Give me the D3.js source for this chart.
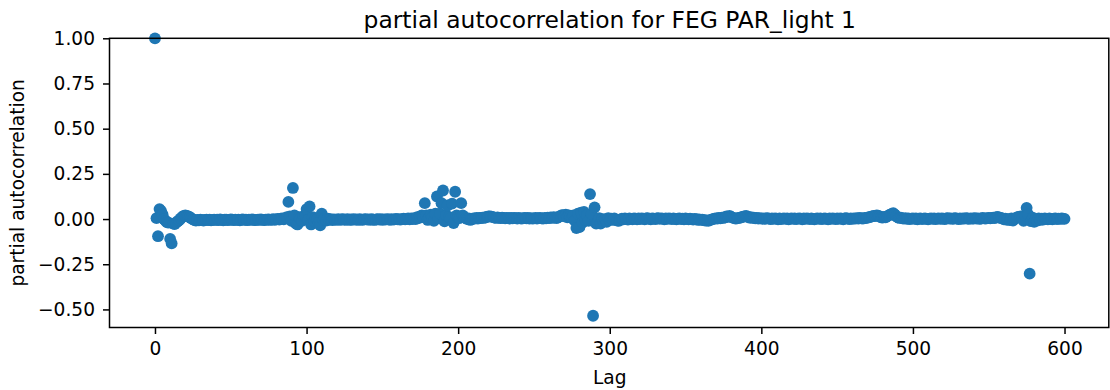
<!DOCTYPE html>
<html>
<head>
<meta charset="utf-8">
<script src="https://cdn.jsdelivr.net/npm/d3@7"></script>
<style>
  html, body { margin: 0; padding: 0; background: #fff; }
  svg { display: block; font-family: "DejaVu Sans", sans-serif; }
</style>
</head>
<body>
<svg id="chart" width="1110" height="390"></svg>
<script>
// Partial autocorrelation of the PAR_light 1 series, lags 0..600 (one value per lag).
const pacf = [
  1.0, 0.005, -0.095, 0.055, 0.045, 0.025, 0.0, -0.01, -0.018, -0.02, -0.11, -0.135, -0.025, -0.028, -0.02, -0.012, -0.006, 0.004, 0.012, 0.018,
  0.02, 0.018, 0.014, 0.01, 0.004, -0.002, -0.006, -0.008, -0.005, -0.007, -0.004, -0.006, -0.008, -0.005, -0.003, -0.006, -0.004, -0.007, -0.005, -0.003,
  -0.005, -0.004, -0.006, -0.002, -0.005, -0.007, -0.004, -0.003, -0.006, -0.005, -0.002, -0.004, -0.006, -0.003, -0.005, -0.004, -0.007, -0.003, -0.002, -0.005,
  -0.004, -0.006, -0.003, -0.005, -0.002, -0.004, -0.006, -0.005, -0.003, -0.004, -0.002, -0.005, -0.006, -0.003, -0.004, -0.002, -0.005, -0.003, -0.001, -0.004,
  -0.002, 0.001, -0.003, 0.002, 0.004, -0.002, 0.005, 0.01, 0.095, 0.015, -0.01, 0.172, 0.02, -0.025, -0.03, 0.01, 0.005, -0.01, 0.015, 0.02,
  0.055, -0.005, 0.07, -0.03, 0.01, -0.01, 0.005, 0.0, -0.02, -0.035, 0.03, -0.005, 0.005, -0.008, 0.002, -0.004, 0.0, -0.006, -0.002, -0.004,
  -0.003, -0.001, -0.005, -0.002, 0.0, -0.004, -0.003, -0.001, -0.005, -0.002, -0.004, 0.0, -0.003, -0.002, -0.005, -0.001, -0.003, -0.004, -0.002, 0.0,
  -0.003, -0.002, -0.004, -0.001, -0.003, -0.005, -0.002, 0.0, -0.003, -0.001, -0.004, -0.002, -0.003, 0.0, -0.002, -0.004, -0.001, -0.003, -0.002, 0.001,
  -0.002, -0.001, -0.003, 0.0, 0.002, -0.002, 0.001, 0.003, -0.001, 0.004, 0.0, 0.005, 0.0, 0.01, 0.005, 0.015, 0.02, 0.01, 0.088, 0.02,
  -0.005, 0.01, 0.025, 0.01, -0.01, 0.03, 0.125, 0.005, 0.03, 0.088, 0.158, -0.013, 0.02, 0.075, 0.01, 0.005, 0.085, -0.022, 0.151, 0.02,
  0.01, 0.005, 0.088, 0.02, 0.01, 0.005, 0.0, 0.003, -0.005, 0.0, 0.004, 0.002, 0.006, 0.003, 0.007, 0.005, 0.008, 0.006, 0.01, 0.012,
  0.014, 0.015, 0.013, 0.011, 0.008, 0.006, 0.009, 0.007, 0.005, 0.008, 0.006, 0.004, 0.007, 0.005, 0.003, 0.006, 0.004, 0.007, 0.005, 0.003,
  0.006, 0.004, 0.002, 0.005, 0.007, 0.004, 0.006, 0.003, 0.005, 0.002, 0.004, 0.006, 0.003, 0.005, 0.007, 0.004, 0.002, 0.006, 0.004, 0.008,
  0.005, 0.009, 0.006, 0.01, 0.008, 0.005, 0.01, 0.015, 0.02, 0.022, 0.015, 0.025, 0.01, 0.02, 0.015, 0.005, 0.02, -0.01, -0.05, 0.03,
  -0.045, 0.035, -0.02, 0.04, -0.005, 0.02, -0.01, 0.138, 0.03, -0.535, 0.065, -0.025, -0.02, 0.005, -0.025, 0.0, -0.01, 0.0, -0.015, 0.005,
  -0.005, 0.002, -0.004, 0.004, -0.006, -0.008, -0.01, -0.004, 0.002, -0.002, 0.004, 0.0, -0.003, 0.003, 0.001, -0.002, 0.004, 0.002, -0.001, 0.003,
  0.0, 0.004, 0.002, -0.002, 0.003, 0.005, 0.001, -0.001, 0.004, 0.002, 0.0, 0.003, 0.005, 0.001, 0.004, 0.002, -0.001, 0.003, 0.001, 0.004,
  0.002, 0.0, 0.003, 0.001, -0.002, 0.002, 0.004, 0.0, 0.002, -0.001, 0.003, 0.001, -0.002, 0.002, 0.0, -0.003, 0.001, -0.001, -0.004, -0.002,
  -0.005, -0.003, -0.006, -0.008, -0.007, -0.01, -0.006, -0.003, 0.0, 0.002, 0.004, 0.003, 0.006, 0.004, 0.008, 0.006, 0.01, 0.014, 0.012, 0.018,
  0.012, 0.008, 0.005, 0.002, 0.004, 0.006, 0.008, 0.01, 0.013, 0.015, 0.018, 0.012, 0.008, 0.01, 0.006, 0.008, 0.004, 0.006, 0.003, 0.005,
  0.002, 0.004, 0.001, 0.003, 0.005, 0.002, 0.0, 0.003, 0.001, 0.004, 0.002, -0.001, 0.003, 0.0, 0.002, 0.004, 0.001, 0.003, -0.001, 0.002,
  0.004, 0.001, 0.003, 0.0, 0.002, 0.004, 0.002, -0.001, 0.003, 0.001, 0.004, 0.002, 0.0, 0.003, 0.001, -0.002, 0.002, 0.004, 0.001, 0.003,
  0.0, 0.002, 0.004, 0.001, -0.001, 0.003, 0.001, 0.004, 0.002, 0.0, 0.003, 0.001, 0.004, 0.002, -0.001, 0.003, 0.005, 0.002, 0.0, 0.003,
  0.001, 0.004, 0.002, 0.005, 0.003, 0.006, 0.004, 0.002, 0.007, 0.005, 0.008, 0.01, 0.012, 0.015, 0.018, 0.016, 0.02, 0.019, 0.014, 0.01,
  0.008, 0.012, 0.01, 0.015, 0.02, 0.025, 0.028, 0.032, 0.025, 0.015, 0.01, 0.006, 0.008, 0.004, 0.002, 0.005, 0.001, 0.003, 0.0, 0.002,
  0.004, 0.001, 0.003, -0.001, 0.002, 0.004, 0.0, 0.002, 0.003, 0.001, -0.001, 0.002, 0.004, 0.001, 0.003, 0.0, 0.002, 0.004, 0.001, 0.003,
  0.002, 0.0, 0.003, 0.005, 0.002, 0.004, 0.001, 0.003, 0.005, 0.002, 0.0, 0.003, 0.001, 0.004, 0.002, 0.005, 0.003, 0.001, 0.004, 0.002,
  0.003, 0.005, 0.002, 0.004, 0.001, 0.003, 0.006, 0.004, 0.002, 0.005, 0.007, 0.004, 0.006, 0.008, 0.005, 0.01, 0.012, 0.008, 0.006, 0.004,
  -0.002, 0.002, -0.004, 0.0, -0.006, 0.003, -0.008, 0.002, 0.006, 0.01, 0.012, 0.015, 0.004, -0.01, 0.02, 0.062, 0.025, -0.302, -0.012, 0.008,
  -0.015, 0.0, -0.008, 0.004, -0.005, 0.002, -0.003, 0.004, 0.0, -0.002, 0.003, 0.001, -0.001, 0.002, 0.004, 0.0, 0.002, 0.001, 0.003, 0.002, 0.001
];
const lags = pacf.map((_, i) => i);

const xTicks = [0, 100, 200, 300, 400, 500, 600];
const yTicks = [-0.5, -0.25, 0, 0.25, 0.5, 0.75, 1.0];

const titleText = "partial autocorrelation for FEG PAR_light 1";
const xLabelText = "Lag";
const yLabelText = "partial autocorrelation";

const color = "#1f77b4";
const plot = { left: 109.5, right: 1110, top: 38.3, bottom: 327.5 };

const svg = d3.select("#chart");

const x = d3.scaleLinear().domain([-30, 630]).range([plot.left, plot.right]);
const y = d3.scaleLinear().domain([-0.6, 1.0]).range([plot.bottom, plot.top]);

const fmtY = v => d3.format(".2f")(v).replace("-", "\u2212");

// points
svg.append("g")
  .selectAll("circle")
  .data(lags)
  .join("circle")
  .attr("cx", i => x(i))
  .attr("cy", i => y(pacf[i]))
  .attr("r", 5.9)
  .attr("fill", color);

// axes
const tickFont = 18.6;
const xAxis = svg.append("g")
  .attr("transform", `translate(0,${plot.bottom})`)
  .call(d3.axisBottom(x).tickValues(xTicks).tickSize(6.5).tickPadding(8).tickFormat(d3.format("d")));
const yAxis = svg.append("g")
  .attr("transform", `translate(${plot.left},0)`)
  .call(d3.axisLeft(y).tickValues(yTicks).tickSize(6.5).tickPadding(8).tickFormat(fmtY));

[xAxis, yAxis].forEach(g => {
  g.select(".domain").remove();
  g.selectAll(".tick line").attr("stroke", "#000").attr("stroke-width", 1.5);
  g.selectAll(".tick text")
    .attr("fill", "#000")
    .style("font-family", "DejaVu Sans")
    .style("font-size", tickFont + "px");
});

// frame
const rightEdge = Math.min(plot.right, 1108.8);
svg.append("rect")
  .attr("x", plot.left)
  .attr("y", plot.top)
  .attr("width", rightEdge - plot.left)
  .attr("height", plot.bottom - plot.top)
  .attr("fill", "none")
  .attr("stroke", "#000")
  .attr("stroke-width", 1.5);

// labels
svg.append("text")
  .attr("x", (plot.left + plot.right) / 2)
  .attr("y", 28)
  .attr("text-anchor", "middle")
  .style("font-size", "23.4px")
  .text(titleText);

svg.append("text")
  .attr("x", (plot.left + plot.right) / 2)
  .attr("y", 384)
  .attr("text-anchor", "middle")
  .style("font-size", tickFont + "px")
  .text(xLabelText);

svg.append("text")
  .attr("transform", `translate(24,${(plot.top + plot.bottom) / 2}) rotate(-90)`)
  .attr("text-anchor", "middle")
  .style("font-size", tickFont + "px")
  .text(yLabelText);
</script>
</body>
</html>
